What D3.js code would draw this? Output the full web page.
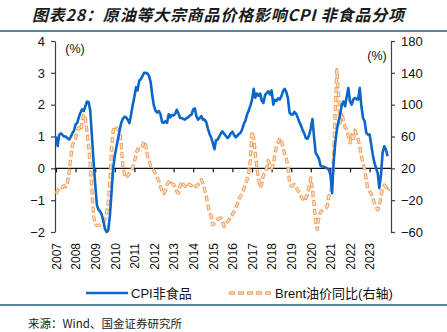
<!DOCTYPE html>
<html><head><meta charset="utf-8">
<script src="https://cdn.jsdelivr.net/npm/d3@7"></script>
<style>
html,body{margin:0;padding:0;background:#fff;}
svg{display:block;}
</style></head><body>
<svg id="c" width="447" height="332"></svg>
<script>
const titleText = "图表28：原油等大宗商品价格影响CPI 非食品分项";
const sourceText = "来源：Wind、国金证券研究所";
const seriesNames = ["CPI非食品", "Brent油价同比(右轴)"];
const unitLabel = "(%)";
const yearLabels = ["2007","2008","2009","2010","2011","2012","2013","2014","2015","2016","2017","2018","2019","2020","2021","2022","2023"];
const leftTicks = [-2, -1, 0, 1, 2, 3, 4];
const rightTicks = [-60, -20, 20, 60, 100, 140, 180];

// monthly, Jan 2007 onwards
const cpiNonFood = [
  1.0, 0.7, 1.05, 1.1, 1.05, 1.0, 1.0, 0.95, 0.9, 0.98, 1.1, 1.18,
  1.38, 1.43, 1.6, 1.75, 1.85, 1.8, 1.95, 2.1, 2.08, 1.8, 1.0, 0.2,
  -0.5, -1.15, -1.3, -1.35, -1.45, -1.65, -1.9, -2.0, -1.95, -1.5, -0.75, 0.0,
  0.4, 0.68, 0.93, 1.2, 1.43, 1.56, 1.62, 1.6, 1.52, 1.42, 1.7, 2.0,
  2.25, 2.55, 2.45, 2.75, 2.8, 2.9, 3.0, 3.0, 2.98, 2.9, 2.7, 2.27,
  1.96, 1.8, 1.75, 1.8, 1.7, 1.45, 1.43, 1.48, 1.43, 1.7, 1.6, 1.68,
  1.66, 1.72, 1.84, 1.72, 1.58, 1.58, 1.55, 1.53, 1.58, 1.61, 1.66, 1.69,
  1.85, 1.88, 1.64, 1.53, 1.58, 1.64, 1.53, 1.53, 1.45, 1.25, 1.08, 0.97,
  0.8, 0.6, 0.88, 0.9, 1.0, 1.1, 1.16, 1.08, 1.02, 0.95, 1.0, 1.1,
  1.15, 1.05, 0.98, 1.02, 1.08, 1.12, 1.22, 1.4, 1.5, 1.7, 1.82, 1.97,
  2.15, 2.5, 2.22, 2.35, 2.28, 2.35, 2.12, 2.05, 2.3, 2.37, 2.42, 2.32,
  2.45, 2.0, 2.15, 2.12, 2.2, 2.16, 2.26, 2.42, 2.5, 2.4, 2.2, 1.75,
  1.69, 1.69, 1.77, 1.72, 1.6, 1.45, 1.35, 1.2, 1.1, 0.95, 0.93, 1.05,
  1.25, 1.55, 1.0, 0.48, 0.4, 0.3, 0.08, 0.06, 0.05, 0.02, 0.0, -0.04,
  -0.2, -0.78, 0.2, 0.8, 1.22, 1.48, 1.69, 2.0, 2.1, 1.95, 2.26, 2.52,
  2.1, 2.0, 2.16, 2.21, 2.18, 2.16, 2.52, 1.95, 1.58, 1.48, 1.11, 1.06,
  1.06, 0.74, 0.43, 0.17, 0.01, -0.15, -0.62, -0.2, 0.5, 0.69, 0.59, 0.38
];
const brentYoY = [
  -12, -8, -5, -3, -4, -2, -3, 2, 14, 32, 48, 55,
  58, 67, 71, 67, 77, 88, 82, 65, 48, 23, -6, -40,
  -50, -52, -52, -51, -50, -48, -44, -36, -23, 0, 45, 67,
  73, 71, 69, 67, 50, 22, 12, 8, 11, 14, 17, 21,
  28, 38, 44, 44, 44, 48, 54, 49, 36, 29, 23, 19,
  17, 13, 8, 4, -2, -10, -12, -8, 0, 3, -1, 1,
  -0.5, -4, -9, -11, -2, 3.6, -0.5, -2.6, 1.5, 0, -0.5, -2,
  -4.7, -4, -2, -0.5, 3, 5.7, 1.5, -6.8, -15, -25.7, -36, -40,
  -51, -49, -47, -44.5, -43, -42.5, -47, -53, -49, -47, -44.5, -41,
  -38, -34, -30, -25, -19, -15, -11, -6, -0.5, 6, 14, 31,
  66, 58, 40, 22, 8, -4, 0, 12, 14, 20, 30, 22,
  20, 25, 36, 48, 52, 58, 55, 46, 38, 32, 23, 2,
  -2.6, -1, -0.5, -4, -7, -11, -15, -18, -21.5, -17, -13, -3,
  8, -7, -24, -48, -57, -40, -35, -33, -31, -30, -28, -15,
  -12, 2, 30, 95, 144, 112, 77, 90, 80, 72, 68, 60,
  52, 62, 54, 68, 62, 56, 48, 35, 27, 18, 5, -6,
  -9, -12, -17, -24, -28, -32, -28, -15, -5, -1, -3, -8,
  -5
];

const startYear = +yearLabels[0];
const monthDate = i => new Date(startYear, i, 1);
const cpiData = cpiNonFood.map((v, i) => ({date: monthDate(i), v}));
const brentData = brentYoY.map((v, i) => ({date: monthDate(i), v}));

const svg = d3.select("#c");
const W = 447, H = 332;
const plot = {left: 55, right: 391, top: 41, bottom: 232};

const x = d3.scaleTime()
  .domain([new Date(startYear, 0, 1), new Date(+yearLabels[yearLabels.length-1] + 1, 0, 1)])
  .range([56, 389.2]);
const yL = d3.scaleLinear().domain([d3.min(leftTicks), d3.max(leftTicks)]).range([plot.bottom, plot.top]);
const yR = d3.scaleLinear().domain([d3.min(rightTicks), d3.max(rightTicks)]).range([plot.bottom, plot.top]);

const latin = "'Liberation Sans', Arial, sans-serif";
const cjk = "'Liberation Sans', 'Noto Sans CJK SC', sans-serif";
const frameColor = "#1f5a7c";
const blue = "#0b66c8";
const orangeOuter = "#f4a261";
const orangeInner = "#fff0e2";

// title
svg.append("text")
  .attr("x", 32).attr("y", 20.5)
  .attr("font-family", "'Noto Sans CJK SC', sans-serif")
  .attr("font-size", 16).attr("font-weight", "bold").attr("font-style", "italic")
  .attr("fill", "#1a1a1a")
  .attr("textLength", 372).attr("lengthAdjust", "spacing")
  .text(titleText);

svg.append("line").attr("x1", 0).attr("x2", W).attr("y1", 31).attr("y2", 31)
  .attr("stroke", frameColor).attr("stroke-width", 1.5);
svg.append("line").attr("x1", 0).attr("x2", W).attr("y1", 305).attr("y2", 305)
  .attr("stroke", frameColor).attr("stroke-width", 1.5);

// left axis
const gL = svg.append("g").attr("transform", `translate(${plot.left},0)`)
  .call(d3.axisLeft(yL).tickValues(leftTicks).tickSize(4).tickSizeOuter(0).tickPadding(6).tickFormat(d3.format("d")));
// right axis
const gR = svg.append("g").attr("transform", `translate(${plot.right},0)`)
  .call(d3.axisRight(yR).tickValues(rightTicks).tickSize(4).tickSizeOuter(0).tickPadding(6).tickFormat(d3.format("d")));
[gL, gR].forEach(g => {
  g.select(".domain").attr("stroke", "#404040").attr("stroke-width", 1.2);
  g.selectAll(".tick line").attr("stroke", "#404040").attr("stroke-width", 1.2);
  g.selectAll("text").attr("font-family", latin).attr("font-size", 13).attr("fill", "#111");
});

// unit labels
svg.append("text").attr("x", 75).attr("y", 52.5).attr("text-anchor", "middle")
  .attr("font-family", latin).attr("font-size", 12.5).attr("fill", "#111").text(unitLabel);
svg.append("text").attr("x", 377).attr("y", 60).attr("text-anchor", "middle")
  .attr("font-family", latin).attr("font-size", 12.5).attr("fill", "#111").text(unitLabel);

// zero line with year ticks
const yearDates = yearLabels.map(y => new Date(+y, 0, 1));
const gZ = svg.append("g").attr("transform", `translate(0,${yL(0)})`)
  .call(d3.axisBottom(x).tickValues(yearDates).tickSize(4).tickSizeOuter(0).tickFormat(""));
gZ.select(".domain").remove();
gZ.selectAll(".tick line").attr("stroke", "#111").attr("stroke-width", 1.2);
svg.append("line").attr("x1", plot.left).attr("x2", plot.right)
  .attr("y1", yL(0)).attr("y2", yL(0)).attr("stroke", "#111").attr("stroke-width", 1.3);

// year labels rotated
const gX = svg.append("g").attr("transform", `translate(0,243)`)
  .call(d3.axisBottom(x).tickValues(yearDates).tickSize(0).tickFormat((d, i) => yearLabels[i]));
gX.select(".domain").remove();
gX.selectAll("text")
  .attr("font-family", latin).attr("font-size", 12).attr("fill", "#111")
  .attr("transform", "rotate(-90)")
  .attr("text-anchor", "end")
  .attr("x", 0).attr("y", 0).attr("dx", 0).attr("dy", "0.36em");

// Brent line (right axis): outlined dashes
const lineR = d3.line().x(d => x(d.date)).y(d => yR(d.v));
svg.append("path").datum(brentData).attr("d", lineR)
  .attr("fill", "none").attr("stroke", orangeOuter).attr("stroke-width", 3.4)
  .attr("stroke-dasharray", "6 3").attr("stroke-linejoin", "round");
svg.append("path").datum(brentData).attr("d", lineR)
  .attr("fill", "none").attr("stroke", orangeInner).attr("stroke-width", 1.2)
  .attr("stroke-dasharray", "4 5").attr("stroke-dashoffset", -1).attr("stroke-linejoin", "round");

// CPI line (left axis)
const lineL = d3.line().x(d => x(d.date)).y(d => yL(d.v));
svg.append("path").datum(cpiData).attr("d", lineL)
  .attr("fill", "none").attr("stroke", blue).attr("stroke-width", 2.6)
  .attr("stroke-linejoin", "round");

// legend
const legY = 293;
svg.append("line").attr("x1", 86).attr("x2", 128).attr("y1", legY).attr("y2", legY)
  .attr("stroke", blue).attr("stroke-width", 2.6);
svg.append("text").attr("x", 131).attr("y", legY + 4.5)
  .attr("font-family", cjk).attr("font-size", 13).attr("fill", "#111").text(seriesNames[0]);
svg.append("line").attr("x1", 229).attr("x2", 273).attr("y1", legY).attr("y2", legY)
  .attr("stroke", orangeOuter).attr("stroke-width", 3.4).attr("stroke-dasharray", "6 3");
svg.append("line").attr("x1", 229).attr("x2", 273).attr("y1", legY).attr("y2", legY)
  .attr("stroke", orangeInner).attr("stroke-width", 1.2).attr("stroke-dasharray", "4 5").attr("stroke-dashoffset", -1);
svg.append("text").attr("x", 275).attr("y", legY + 4.5)
  .attr("font-family", cjk).attr("font-size", 13).attr("fill", "#111").text(seriesNames[1]);

// source
svg.append("text").attr("x", 28).attr("y", 328)
  .attr("font-family", "'Noto Sans CJK SC', sans-serif").attr("font-size", 11.5).attr("fill", "#222")
  .text(sourceText);
</script>
</body></html>
